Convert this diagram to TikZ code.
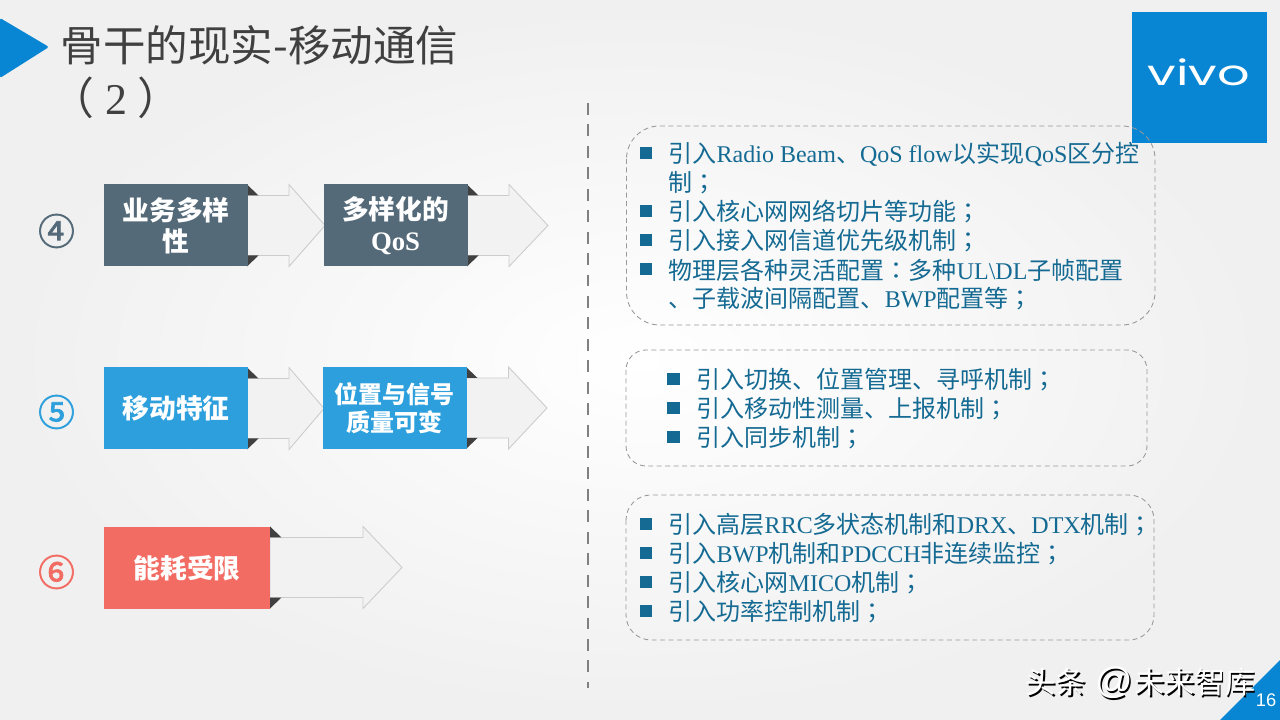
\documentclass[tikz,border=0pt]{standalone}
\usepackage{fontspec}
\setmainfont{Noto Sans CJK SC}
\newfontfamily\latfont{Liberation Serif}
\newfontfamily\tcfont{Noto Sans CJK TC}
\newfontfamily\logofont{Poppins}
\newfontfamily\numfont{Liberation Sans}
\newfontfamily\circfont[FakeBold=2]{Noto Sans CJK SC}
\newcommand{\lat}[1]{{\latfont #1}}
\newcommand{\fwsemi}{{\tcfont ；}}
\newcommand{\fwcolon}{{\tcfont ：}}
\definecolor{vivoblue}{HTML}{0886D3}
\definecolor{slate}{HTML}{546A78}
\definecolor{skyblue}{HTML}{2C9FDC}
\definecolor{salmon}{HTML}{F36C63}
\definecolor{listblue}{HTML}{146A92}
\tikzset{
	flatbox/.style={inner sep=0pt,text=white,align=center,font=\bfseries\fontsize{7.6}{8.9}\selectfont},
	rownum/.style={inner sep=0pt,font=\circfont\fontsize{10.4}{12}\selectfont},
	arrowline/.style={draw=black!20,fill=black!5,line width=0.25pt,line join=miter},
	panelline/.style={draw=black!40,line width=0.25pt,dash pattern=on 1.4pt off 1pt},
	listitem/.style={anchor=west,inner sep=0pt,yshift=-0.01cm,text=listblue,font=\fontsize{6.83}{8}\selectfont},
	squarebullet/.style={inner sep=0pt,minimum size=0.125cm,fill=listblue},
	marktext/.style={anchor=west,inner sep=0pt,font=\fontsize{8.6}{10}\selectfont},
}
\begin{document}
\begin{tikzpicture}[y=-1cm]
	\useasboundingbox (0,0) rectangle (12.8,7.2);
	\shade[inner color=white,outer color=black!6] (0,0) rectangle (12.8,7.2);
	\fill[vivoblue,rounded corners=0.015cm] (0,0.18)--(0.49,0.47)--(0,0.78)--cycle;
	\node[anchor=west,inner sep=0pt,text=black!75,font=\fontsize{12.1}{14}\selectfont] (title) at (0.60,0.45) {骨干的现实-移动通信};
	\node[anchor=west,inner sep=0pt,text=black!75,font=\fontsize{12.5}{14}\selectfont] (titleb) at (0.50,0.98) {（\hspace{0.11cm}\lat{2}\hspace{0.10cm}）};
	\fill[vivoblue] (11.32,0.12) rectangle (12.67,1.43);
	\node[inner sep=0pt,text=white,xscale=1.45,font=\logofont\fontsize{10}{12}\selectfont] (logo) at (11.99,0.72) {vivo};
	\draw[black!50,line width=0.8pt,dash pattern=on 3.4pt off 2.7pt] (5.88,1.03)--(5.88,6.88);
	\foreach \xa/\xb/\xc/\yc in {2.47/2.89/3.25/2.255,4.67/5.09/5.48/2.255,2.47/2.89/3.24/4.085,4.66/5.085/5.47/4.08,2.70/3.63/4.02/5.675}{
		\draw[arrowline] (\xa,\yc-0.30)--(\xb,\yc-0.30)--(\xb,\yc-0.41)--(\xc,\yc)--(\xb,\yc+0.41)--(\xb,\yc+0.30)--(\xa,\yc+0.30)--cycle;
		\fill[black!75] (\xa,\yc-0.41)--(\xa+0.115,\yc-0.30)--(\xa,\yc-0.30)--cycle;
		\fill[black!75] (\xa,\yc+0.41)--(\xa+0.115,\yc+0.30)--(\xa,\yc+0.30)--cycle;
	}
	\node[flatbox,fill=slate,minimum width=1.44cm,minimum height=0.82cm] (variety) at (1.76,2.25) {\rule{0pt}{6.86pt}业务多样\\性};
	\node[flatbox,fill=slate,minimum width=1.44cm,minimum height=0.82cm] (qos) at (3.955,2.25) {\rule{0pt}{6.86pt}多样化的\\\lat{QoS}};
	\node[flatbox,fill=skyblue,minimum width=1.44cm,minimum height=0.82cm] (mobile) at (1.76,4.085) {移动特征};
	\node[flatbox,fill=skyblue,minimum width=1.44cm,minimum height=0.82cm,font=\bfseries\fontsize{6.83}{8.1}\selectfont] (signal) at (3.945,4.08) {位置与信号\\质量可变};
	\node[flatbox,fill=salmon,minimum width=1.66cm,minimum height=0.82cm] (energy) at (1.87,5.68) {能耗受限};
	\node[rownum,text=slate] (numd) at (0.565,2.31) {④};
	\node[rownum,text=skyblue] (nume) at (0.565,4.12) {⑤};
	\node[rownum,text=salmon] (numf) at (0.565,5.72) {⑥};
	\draw[panelline,rounded corners=0.33cm] (6.265,1.26) rectangle (11.55,3.25);
	\draw[panelline,rounded corners=0.2cm] (6.26,3.5) rectangle (11.47,4.66);
	\draw[panelline,rounded corners=0.25cm] (6.26,4.95) rectangle (11.54,6.4);
	\foreach \n/\y/\t in {a/1.53/{引入\lat{Radio Beam}、\lat{QoS flow}以实现\lat{QoS}区分控},
		c/2.11/{引入核心网网络切片等功能\fwsemi},
		d/2.40/{引入接入网信道优先级机制\fwsemi},
		e/2.69/{物理层各种灵活配置\fwcolon 多种\lat{UL\textbackslash DL}子帧配置},
		k/5.24/{引入高层\lat{RRC}多状态机制和\lat{DRX}、\lat{DTX}机制\fwsemi},
		l/5.53/{引入\lat{BWP}机制和\lat{PDCCH}非连续监控\fwsemi},
		m/5.82/{引入核心网\lat{MICO}机制\fwsemi},
		n/6.11/{引入功率控制机制\fwsemi}}{
		\node[squarebullet] (bu\n) at (6.46,\y) {};
		\node[listitem] (li\n) at (6.68,\y) {\t};
	}
	\node[listitem] (lib) at (6.68,1.82) {制\fwsemi};
	\node[listitem] (lif) at (6.68,2.98) {、子载波间隔配置、\lat{BWP}配置等\fwsemi};
	\foreach \n/\y/\t in {g/3.79/{引入切换、位置管理、寻呼机制\fwsemi},
		h/4.08/{引入移动性测量、上报机制\fwsemi},
		i/4.37/{引入同步机制\fwsemi}}{
		\node[squarebullet] (bu\n) at (6.735,\y) {};
		\node[listitem] (li\n) at (6.96,\y) {\t};
	}
	\fill[vivoblue] (12.2,7.2)--(12.8,6.6)--(12.8,7.2)--cycle;
	\node[inner sep=0pt,text=white,font=\numfont\fontsize{5.2}{6}\selectfont] (page) at (12.66,7.0) {16};
	\node[marktext,text=black] (marka) at (10.265,6.845) {头条\hspace{0.09cm}{\numfont\fontsize{10.5}{10}\selectfont @}\hspace{0.02cm}未来智库};
	\node[marktext,text=white] (markb) at (10.25,6.83) {头条\hspace{0.09cm}{\numfont\fontsize{10.5}{10}\selectfont @}\hspace{0.02cm}未来智库};
\end{tikzpicture}
\end{document}
